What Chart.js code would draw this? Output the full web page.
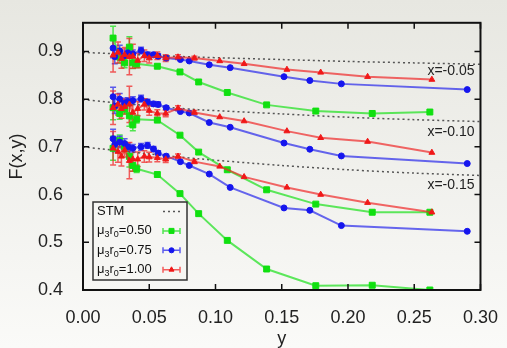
<!DOCTYPE html>
<html>
<head>
<meta charset="utf-8">
<script src="https://cdn.jsdelivr.net/npm/chart.js@4.4.1/dist/chart.umd.min.js"></script>
<style>
    html, body { margin: 0; padding: 0; }
    body { width: 507px; height: 348px; overflow: hidden; background: linear-gradient(#e7e7e1, #fafaf8); }
</style>
</head>
<body>
<canvas id="chart" width="507" height="348"></canvas>
<script>
// axis ticks
const xTicks = [0, 0.05, 0.10, 0.15, 0.20, 0.25, 0.30];
const yTicks = [0.4, 0.5, 0.6, 0.7, 0.8, 0.9];

// STM curves, one per x value
const stmX = [0, 0.05, 0.087, 0.15, 0.20, 0.25, 0.30];
const stmA = [0.898, 0.892, 0.888, 0.883, 0.879, 0.876, 0.873];
const stmB = [0.799, 0.786, 0.778, 0.769, 0.762, 0.757, 0.753];
const stmC = [0.700, 0.685, 0.675, 0.661, 0.652, 0.645, 0.640];

// mu3 r0 = 0.50
const greenX = [0.0227, 0.0277, 0.0314, 0.0350, 0.0376, 0.0405, 0.0561, 0.0732, 0.0873, 0.1089, 0.1386, 0.1757, 0.2183, 0.2618];
const greenYA = [0.928, 0.888, 0.876, 0.909, 0.876, 0.874, 0.869, 0.857, 0.836, 0.814, 0.788, 0.775, 0.770, 0.773];
const greenYB = [0.782, 0.770, 0.779, 0.765, 0.746, 0.758, 0.756, 0.7245, 0.689, 0.652, 0.610, 0.580, 0.563, 0.563];
const greenYC = [0.697, 0.713, 0.700, 0.680, 0.661, 0.654, 0.642, 0.602, 0.560, 0.504, 0.444, 0.409, 0.410, 0.400];
const greenE = [0.025, 0.012, 0.010, 0.022, 0.012, 0.008, 0.004, 0.003, 0.002, 0.002, 0.002, 0.002, 0.002, 0.002];

// mu3 r0 = 0.75
const blueX = [0.0227, 0.0240, 0.0277, 0.0314, 0.0339, 0.0376, 0.0438, 0.0487, 0.0532, 0.0567, 0.0628, 0.0735, 0.0802, 0.0953, 0.1111, 0.1517, 0.1712, 0.1950, 0.2900];
const blueYA = [0.907, 0.889, 0.901, 0.891, 0.897, 0.895, 0.902, 0.893, 0.893, 0.890, 0.886, 0.883, 0.880, 0.872, 0.866, 0.847, 0.839, 0.832, 0.820];
const blueYB = [0.805, 0.785, 0.800, 0.792, 0.795, 0.797, 0.801, 0.794, 0.790, 0.789, 0.782, 0.774, 0.771, 0.751, 0.741, 0.708, 0.695, 0.681, 0.665];
const blueYC = [0.717, 0.705, 0.710, 0.707, 0.700, 0.697, 0.700, 0.703, 0.6955, 0.687, 0.6805, 0.669, 0.661, 0.643, 0.615, 0.572, 0.567, 0.535, 0.523];
const blueE = [0.020, 0.015, 0.012, 0.010, 0.008, 0.008, 0.007, 0.006, 0.005, 0.005, 0.004, 0.003, 0.003, 0.003, 0.002, 0.002, 0.002, 0.002, 0.002];

// mu3 r0 = 1.00
const redX = [0.0227, 0.0264, 0.0290, 0.0314, 0.0350, 0.0376, 0.0413, 0.0463, 0.0500, 0.0561, 0.0624, 0.0717, 0.0841, 0.1032, 0.1216, 0.1539, 0.1794, 0.2148, 0.2633];
const redYA = [0.892, 0.898, 0.885, 0.893, 0.889, 0.890, 0.881, 0.891, 0.886, 0.891, 0.886, 0.888, 0.886, 0.880, 0.874, 0.862, 0.856, 0.847, 0.841];
const redYB = [0.782, 0.789, 0.780, 0.784, 0.789, 0.772, 0.780, 0.789, 0.776, 0.770, 0.770, 0.781, 0.772, 0.7625, 0.754, 0.733, 0.719, 0.711, 0.688];
const redYC = [0.697, 0.690, 0.680, 0.6935, 0.671, 0.674, 0.674, 0.680, 0.6785, 0.677, 0.674, 0.680, 0.669, 0.659, 0.637, 0.615, 0.600, 0.583, 0.563];
const redE = [0.035, 0.022, 0.020, 0.015, 0.038, 0.025, 0.015, 0.012, 0.010, 0.008, 0.007, 0.005, 0.004, 0.003, 0.003, 0.002, 0.002, 0.002, 0.002];

const groupLabels = ['x=-0.05', 'x=-0.10', 'x=-0.15'];
const muValues = ['0.50', '0.75', '1.00'];

const FONT = '"Liberation Sans", Arial, Helvetica, sans-serif';

const styles = {
    stm: { line: '#555555' },
    green: { line: 'rgba(40, 225, 40, 0.75)', mark: '#10e010', err: 'rgba(40, 225, 40, 0.8)', shape: 'rect', r: 4.2 },
    blue: { line: 'rgba(40, 40, 235, 0.7)', mark: '#1515ee', err: 'rgba(40, 40, 235, 0.75)', shape: 'circle', r: 3 },
    red: { line: 'rgba(240, 40, 40, 0.7)', mark: '#f01818', err: 'rgba(240, 40, 40, 0.75)', shape: 'triangle', r: 3.4 }
};

function pts (xs, ys) {
    return xs.map((x, i) => ({ x: x, y: ys[i] }));
}

function stmSet (ys) {
    return {
        data: pts(stmX, ys),
        borderColor: styles.stm.line,
        borderWidth: 1.5,
        borderDash: [2, 3],
        pointRadius: 0,
        tension: 0.3,
        order: 4
    };
}

function series (key, xs, ys, es, order) {
    const s = styles[key];
    return {
        data: pts(xs, ys),
        errs: es,
        errColor: s.err,
        borderColor: s.line,
        borderWidth: 2,
        pointStyle: s.shape,
        pointRadius: s.r,
        pointBackgroundColor: s.mark,
        pointBorderColor: s.mark,
        pointBorderWidth: 1,
        order: order
    };
}

const datasets = [
    stmSet(stmA), stmSet(stmB), stmSet(stmC),
    series('green', greenX, greenYA, greenE, 3),
    series('green', greenX, greenYB, greenE, 3),
    series('green', greenX, greenYC, greenE, 3),
    series('blue', blueX, blueYA, blueE, 2),
    series('blue', blueX, blueYB, blueE, 2),
    series('blue', blueX, blueYC, blueE, 2),
    series('red', redX, redYA, redE, 1),
    series('red', redX, redYB, redE, 1),
    series('red', redX, redYC, redE, 1)
];

// error bars drawn under the markers
const errorBars = {
    id: 'errorBars',
    beforeDatasetsDraw (chart) {
        const ctx = chart.ctx;
        const yScale = chart.scales.y;
        ctx.save();
        chart.data.datasets.forEach((ds, i) => {
            if (!ds.errs) return;
            const meta = chart.getDatasetMeta(i);
            ctx.strokeStyle = ds.errColor;
            ctx.lineWidth = 1.5;
            ds.data.forEach((p, j) => {
                const e = ds.errs[j];
                const px = meta.data[j].x;
                const top = yScale.getPixelForValue(p.y + e);
                const bot = yScale.getPixelForValue(p.y - e);
                ctx.beginPath();
                ctx.moveTo(px, top); ctx.lineTo(px, bot);
                if (bot - top > 3) {
                    ctx.moveTo(px - 3, top); ctx.lineTo(px + 3, top);
                    ctx.moveTo(px - 3, bot); ctx.lineTo(px + 3, bot);
                }
                ctx.stroke();
            });
        });
        ctx.restore();
    }
};

// frame, mirrored inward ticks, group labels and legend
const decorations = {
    id: 'decorations',
    afterDraw (chart) {
        const ctx = chart.ctx;
        const a = chart.chartArea;
        const xs = chart.scales.x;
        const ys = chart.scales.y;
        ctx.save();

        ctx.strokeStyle = '#111';
        ctx.lineWidth = 1.5;
        ctx.beginPath();
        xTicks.forEach(v => {
            const px = xs.getPixelForValue(v);
            ctx.moveTo(px, a.bottom); ctx.lineTo(px, a.bottom - 6);
            ctx.moveTo(px, a.top); ctx.lineTo(px, a.top + 6);
        });
        yTicks.forEach(v => {
            const py = ys.getPixelForValue(v);
            ctx.moveTo(a.left, py); ctx.lineTo(a.left + 6, py);
            ctx.moveTo(a.right, py); ctx.lineTo(a.right - 6, py);
        });
        ctx.stroke();
        ctx.lineWidth = 2;
        ctx.strokeRect(a.left, a.top, a.right - a.left, a.bottom - a.top);

        // curve labels
        ctx.fillStyle = '#222';
        ctx.font = '14px ' + FONT;
        ctx.textAlign = 'right';
        ctx.textBaseline = 'middle';
        const labelY = [0.859, 0.731, 0.619];
        groupLabels.forEach((t, i) => {
            ctx.fillText(t, a.right - 6, ys.getPixelForValue(labelY[i]));
        });

        // legend box
        const bx = a.left + 10, bw = 94, bh = 78;
        const by = a.bottom - 10 - bh;
        ctx.fillStyle = 'rgba(246, 246, 243, 0.9)';
        ctx.fillRect(bx, by, bw, bh);
        ctx.strokeStyle = '#333';
        ctx.lineWidth = 1.5;
        ctx.strokeRect(bx, by, bw, bh);

        const rowY = i => by + 9.5 + i * 19.4;
        const sx0 = bx + 70, sx1 = bx + 87;
        ctx.textAlign = 'left';
        ctx.textBaseline = 'middle';
        ctx.fillStyle = '#111';
        ctx.font = '13px ' + FONT;
        ctx.fillText('STM', bx + 4, rowY(0));
        ctx.strokeStyle = styles.stm.line;
        ctx.setLineDash([2, 3]);
        ctx.beginPath();
        ctx.moveTo(sx0, rowY(0)); ctx.lineTo(sx1, rowY(0));
        ctx.stroke();
        ctx.setLineDash([]);

        ['green', 'blue', 'red'].forEach((key, i) => {
            const y = rowY(i + 1);
            let x = bx + 4;
            ctx.fillStyle = '#111';
            ctx.font = '13px ' + FONT;
            ctx.fillText('μ', x, y); x += ctx.measureText('μ').width;
            ctx.font = '9px ' + FONT;
            ctx.fillText('3', x, y + 4); x += ctx.measureText('3').width;
            ctx.font = '13px ' + FONT;
            ctx.fillText('r', x, y); x += ctx.measureText('r').width;
            ctx.font = '9px ' + FONT;
            ctx.fillText('0', x, y + 4); x += ctx.measureText('0').width;
            ctx.font = '13px ' + FONT;
            ctx.fillText('=' + muValues[i], x, y);

            const s = styles[key];
            ctx.strokeStyle = s.err;
            ctx.lineWidth = 1.5;
            ctx.beginPath();
            ctx.moveTo(sx0, y); ctx.lineTo(sx1, y);
            ctx.moveTo(sx0, y - 3); ctx.lineTo(sx0, y + 3);
            ctx.moveTo(sx1, y - 3); ctx.lineTo(sx1, y + 3);
            ctx.stroke();
            ctx.fillStyle = s.mark;
            ctx.strokeStyle = s.mark;
            ctx.lineWidth = 1;
            Chart.helpers.drawPoint(ctx, {
                pointStyle: s.shape, radius: s.r * 0.85, borderWidth: 1, rotation: 0
            }, (sx0 + sx1) / 2, y);
        });

        ctx.restore();
    }
};

new Chart(document.getElementById('chart'), {
    type: 'line',
    data: { datasets: datasets },
    options: {
        responsive: false,
        animation: false,
        parsing: false,
        layout: { padding: { top: 6, right: 20, left: 0, bottom: 0 } },
        plugins: {
            legend: { display: false },
            tooltip: { enabled: false }
        },
        scales: {
            x: {
                type: 'linear',
                min: 0,
                max: 0.30,
                afterFit: s => { s.height = 58; },
                afterBuildTicks: s => { s.ticks = xTicks.map(v => ({ value: v })); },
                grid: { display: false },
                border: { display: false },
                ticks: {
                    padding: 9,
                    color: '#222',
                    font: { family: FONT, size: 18 },
                    callback: v => v.toFixed(2)
                },
                title: {
                    display: true,
                    text: 'y',
                    color: '#222',
                    font: { family: FONT, size: 18, lineHeight: 1 },
                    padding: { top: 0, bottom: 0 }
                }
            },
            y: {
                type: 'linear',
                min: 0.4,
                max: 0.96,
                afterFit: s => { s.width = 83; },
                afterBuildTicks: s => { s.ticks = yTicks.map(v => ({ value: v })); },
                grid: { display: false },
                border: { display: false },
                ticks: {
                    padding: 12,
                    color: '#222',
                    font: { family: FONT, size: 18 },
                    callback: v => v.toFixed(1)
                },
                title: {
                    display: true,
                    text: 'F(x,y)',
                    color: '#222',
                    font: { family: FONT, size: 18, lineHeight: 1 },
                    padding: { top: 8, bottom: 0 }
                }
            }
        }
    },
    plugins: [errorBars, decorations]
});
</script>
</body>
</html>
